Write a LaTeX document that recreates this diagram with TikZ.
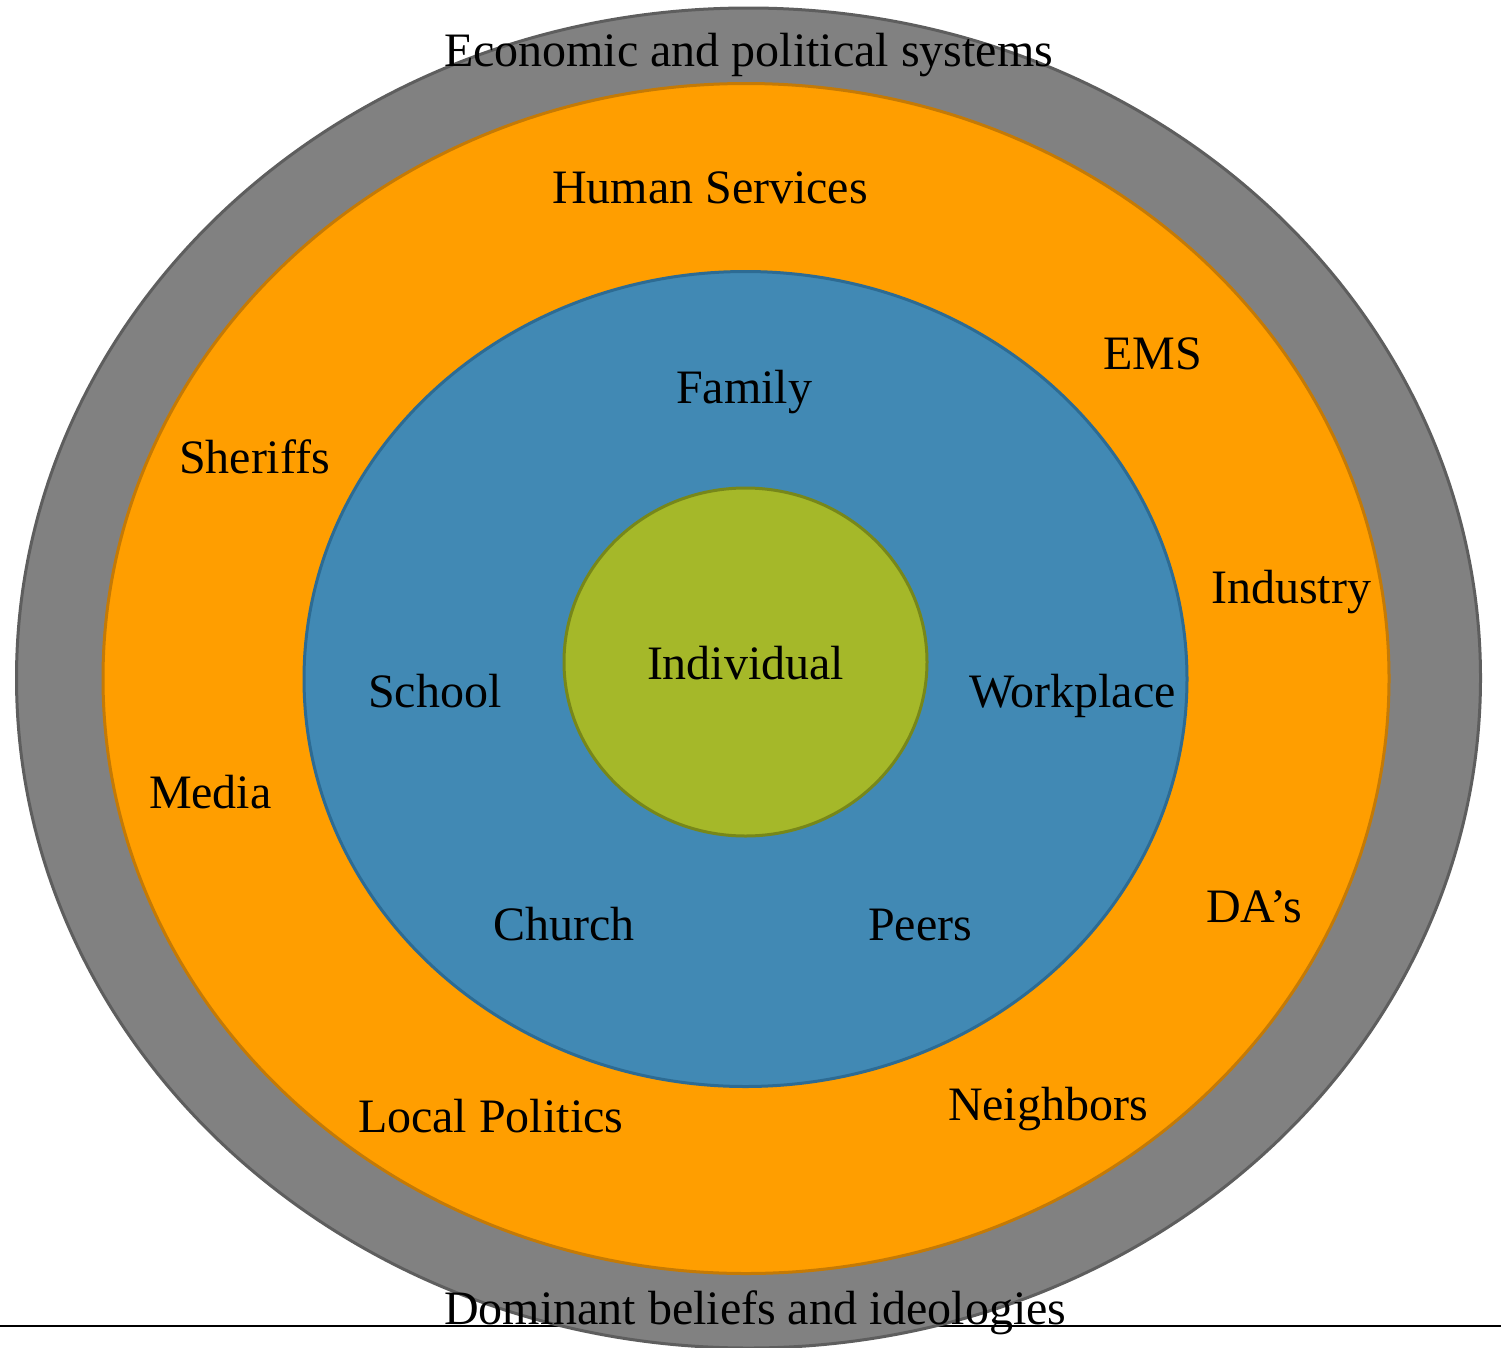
\documentclass[tikz,border=0pt]{standalone}
\usepackage{fontspec}
\setmainfont{Liberation Serif}
\definecolor{grayfill}{HTML}{818181}
\definecolor{graydraw}{HTML}{5E5E5E}
\definecolor{orfill}{HTML}{FF9E00}
\definecolor{ordraw}{HTML}{C47A06}
\definecolor{blfill}{HTML}{4189B4}
\definecolor{bldraw}{HTML}{2D6B93}
\definecolor{grfill}{HTML}{A5B829}
\definecolor{grdraw}{HTML}{77871A}
\tikzset{
  lbl/.style={anchor=base west, inner sep=0pt, outer sep=0pt, font=\fontsize{48}{56}\selectfont, text=black},
  ring/.style={line width=3pt}
}
\begin{document}
\begin{tikzpicture}[x=1pt,y=-1pt]
\useasboundingbox (0,0) rectangle (1501,1347);
\clip (0,0) rectangle (1501,1347);
\fill[white] (0,0) rectangle (1501,1347);
\coordinate (lineL) at (0,1326);
\coordinate (lineR) at (1501,1326);
\draw[line width=2.5pt, black] (lineL) -- (lineR);
\filldraw[ring, fill=grayfill, draw=graydraw] (748.5,678) ellipse [x radius=732pt, y radius=670pt];
\filldraw[ring, fill=orfill, draw=ordraw] (746,678.5) ellipse [x radius=643pt, y radius=595pt];
\filldraw[ring, fill=blfill, draw=bldraw] (745.5,679) ellipse [x radius=441.5pt, y radius=407.5pt];
\filldraw[ring, fill=grfill, draw=grdraw] (745.5,662) ellipse [x radius=181.5pt, y radius=174pt];

\node[lbl] (econ) at (444,66) {Economic and political systems};
\node[lbl] (human) at (552,203) {Human Services};
\node[lbl] (ems) at (1103,369) {EMS};
\node[lbl] (sheriffs) at (179,473) {Sheriffs};
\node[lbl] (family) at (676,403) {Family};
\node[lbl] (industry) at (1211,603) {Industry};
\node[lbl] (individual) at (647,679) {Individual};
\node[lbl] (school) at (368,707) {School};
\node[lbl] (workplace) at (969,707) {Workplace};
\node[lbl] (media) at (149,808) {Media};
\node[lbl] (church) at (493,940) {Church};
\node[lbl] (peers) at (868,940) {Peers};
\node[lbl] (das) at (1206,922) {DA’s};
\node[lbl] (local) at (358,1132) {Local Politics};
\node[lbl] (neighbors) at (948,1120) {Neighbors};
\node[lbl] (dominant) at (444,1324) {Dominant beliefs and ideologies};
\end{tikzpicture}
\end{document}
